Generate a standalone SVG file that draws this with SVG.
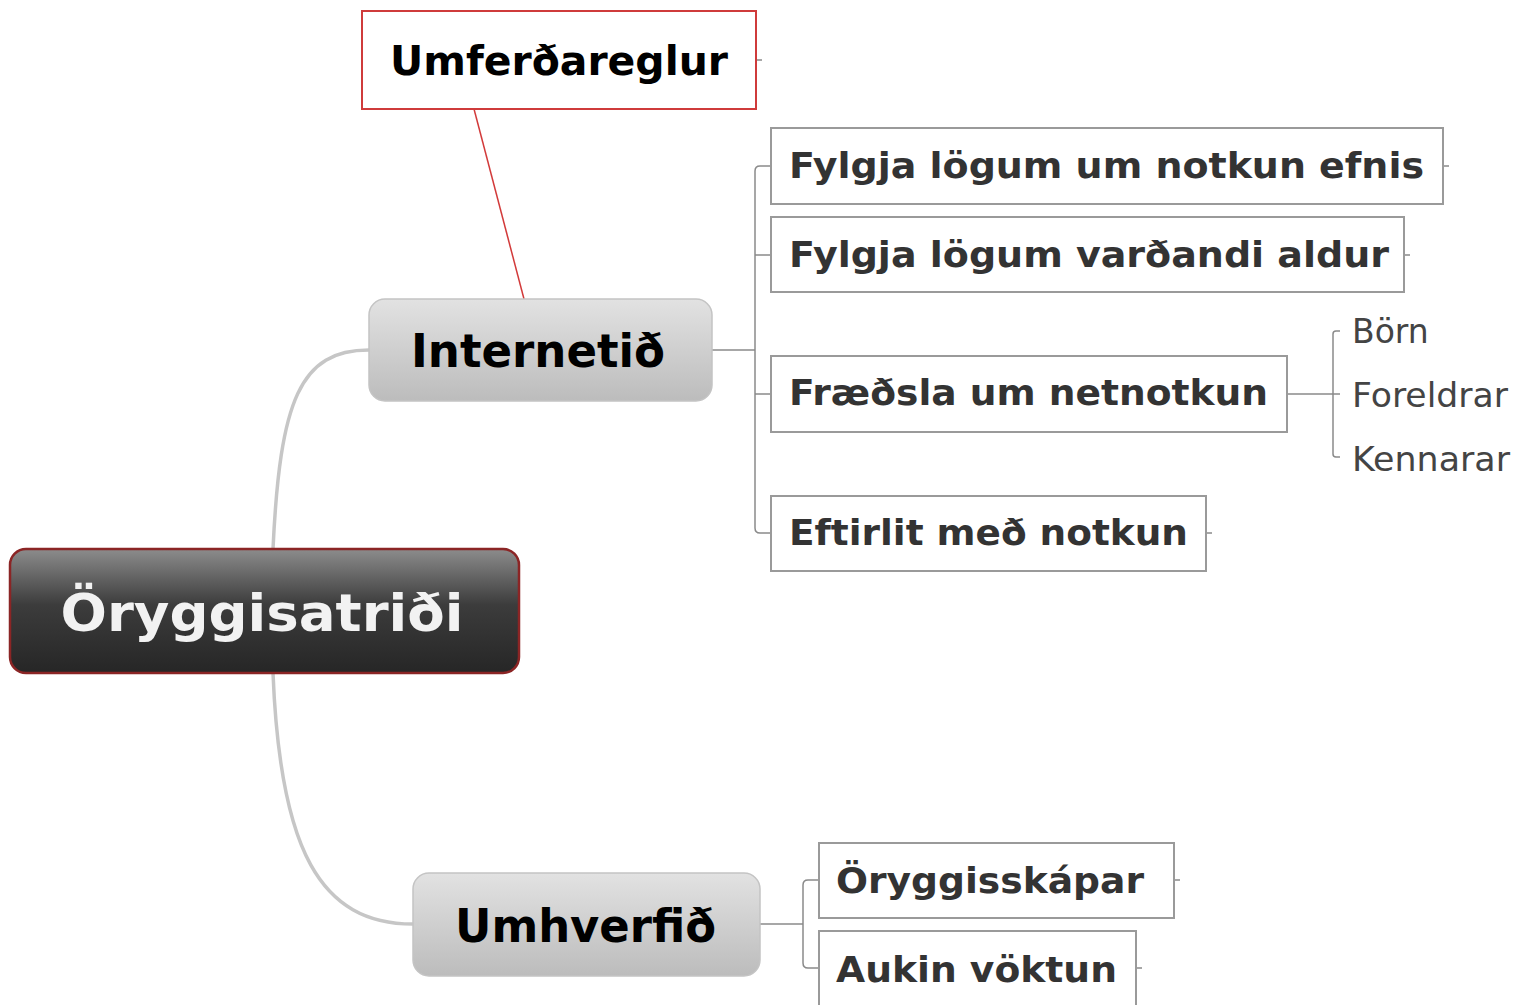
<svg xmlns="http://www.w3.org/2000/svg" width="1522" height="1005" viewBox="0 0 1522 1005">
<defs>
<linearGradient id="gRoot" x1="0" y1="0" x2="0" y2="1">
<stop offset="0" stop-color="#8c8c8c"/>
<stop offset="0.45" stop-color="#3c3c3c"/>
<stop offset="1" stop-color="#262626"/>
</linearGradient>
<linearGradient id="gMain" x1="0" y1="0" x2="0" y2="1">
<stop offset="0" stop-color="#e2e2e2"/>
<stop offset="1" stop-color="#bcbcbc"/>
</linearGradient>
<style>
.t{font-family:"DejaVu Sans","Liberation Sans",sans-serif;font-weight:bold}
.sub rect{fill:#fff;stroke:#9a9a9a;stroke-width:2}
.sub text{fill:#333;font-size:36px}
.leaf text{font-family:"DejaVu Sans","Liberation Sans",sans-serif;fill:#444;font-size:33px}
.main rect{fill:url(#gMain);stroke:#c4c4c4;stroke-width:1.5}
.main text{fill:#000;font-size:46px}
.c{fill:none;stroke:#8a8a8a;stroke-width:1.5}
.thick{fill:none;stroke:#c6c6c6;stroke-width:3.5}
</style>
</defs>
<rect width="1522" height="1005" fill="#fff"/>
<g id="connectors">
<path class="thick" d="M273,549 C280,400 300,350 369,350"/>
<path class="thick" d="M273,673 C280,850 320,924 413,924"/>
<path d="M474,109 L524,299" fill="none" stroke="#d23a3a" stroke-width="1.5"/>
<path class="c" d="M756,60 H762"/>
<path class="c" d="M712,350 H755 M771,166 H760 Q755,166 755,171 V528 Q755,533 760,533 H771 M755,255 H771 M755,394 H771"/>
<path class="c" d="M1443,166 H1449 M1404,255 H1410 M1206,533 H1212"/>
<path class="c" d="M1287,394 H1340 M1340,331 H1336 Q1333,331 1333,334 V454 Q1333,457 1336,457 H1340"/>
<path class="c" d="M760,924 H803 M819,880 H808 Q803,880 803,885 V963 Q803,968 808,968 H819"/>
<path class="c" d="M1174,880 H1180 M1136,968 H1142"/>
</g>
<g id="root">
<rect x="10" y="549" width="509" height="124" rx="16" fill="url(#gRoot)" stroke="#8b2525" stroke-width="2.5"/>
<text class="t" x="262" y="631" text-anchor="middle" fill="#f2f2f2" font-size="52" textLength="403" lengthAdjust="spacingAndGlyphs">Öryggisatriði</text>
</g>
<g id="umferdareglur">
<rect x="362" y="11" width="394" height="98" fill="#fff" stroke="#cf3b3b" stroke-width="2"/>
<text class="t" x="390" y="75" fill="#000" font-size="40" textLength="338" lengthAdjust="spacingAndGlyphs">Umferðareglur</text>
</g>
<g id="internetid" class="main">
<rect x="369" y="299" width="343" height="102" rx="16"/>
<text class="t" x="411" y="367" textLength="254" lengthAdjust="spacingAndGlyphs">Internetið</text>
</g>
<g id="fylgja1" class="sub">
<rect x="771" y="128" width="672" height="76"/>
<text class="t" x="789" y="178" textLength="635" lengthAdjust="spacingAndGlyphs">Fylgja lögum um notkun efnis</text>
</g>
<g id="fylgja2" class="sub">
<rect x="771" y="217" width="633" height="75"/>
<text class="t" x="789" y="267" textLength="600" lengthAdjust="spacingAndGlyphs">Fylgja lögum varðandi aldur</text>
</g>
<g id="fraedsla" class="sub">
<rect x="771" y="356" width="516" height="76"/>
<text class="t" x="789" y="405" textLength="479" lengthAdjust="spacingAndGlyphs">Fræðsla um netnotkun</text>
</g>
<g id="eftirlit" class="sub">
<rect x="771" y="496" width="435" height="75"/>
<text class="t" x="789" y="545" textLength="399" lengthAdjust="spacingAndGlyphs">Eftirlit með notkun</text>
</g>
<g id="born" class="leaf"><text x="1352" y="343">Börn</text></g>
<g id="foreldrar" class="leaf"><text x="1352" y="407" textLength="156" lengthAdjust="spacingAndGlyphs">Foreldrar</text></g>
<g id="kennarar" class="leaf"><text x="1352" y="471" textLength="158" lengthAdjust="spacingAndGlyphs">Kennarar</text></g>
<g id="umhverfid" class="main">
<rect x="413" y="873" width="347" height="103" rx="16"/>
<text class="t" x="455" y="942" textLength="261" lengthAdjust="spacingAndGlyphs">Umhverfið</text>
</g>
<g id="oryggisskapar" class="sub">
<rect x="819" y="843" width="355" height="75"/>
<text class="t" x="836" y="893" textLength="308" lengthAdjust="spacingAndGlyphs">Öryggisskápar</text>
</g>
<g id="aukin" class="sub">
<rect x="819" y="931" width="317" height="76"/>
<text class="t" x="836" y="982" textLength="281" lengthAdjust="spacingAndGlyphs">Aukin vöktun</text>
</g>
</svg>
